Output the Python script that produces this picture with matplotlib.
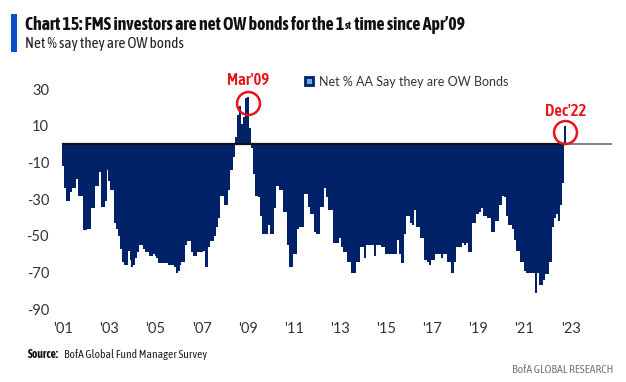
import matplotlib
matplotlib.use("Agg")
import matplotlib.pyplot as plt
import matplotlib.patches as patches
import numpy as np
import pandas as pd

# monthly survey readings, Mar 2001 .. Dec 2022
start_month = "2001-03"
net_ow_bonds = [
    -12, -24, -31, -31, -26, -24, -24, -19, -28, -28, -28, -47,
    -47, -46, -46, -35, -35, -23, -23, -15, -34, -34, -31, -14,
    -20, -25, -25, -43, -46, -50, -57, -64, -66, -66, -58, -63,
    -67, -66, -62, -59, -55, -55, -57, -59, -59, -61, -61, -60,
    -61, -62, -65, -65, -65, -65, -65, -66, -66, -66, -67, -70,
    -69, -66, -64, -64, -55, -53, -53, -59, -61, -61, -59, -59,
    -59, -58, -67, -67, -56, -53, -53, -50, -45, -40, -28, -28,
    -33, -33, -25, -14, -14, -7, 4, 16, 21, 11, 15, 25,
    26, 9, -2, -16, -28, -28, -29, -39, -49, -49, -49, -44,
    -49, -49, -35, -23, -23, -25, -25, -37, -37, -55, -67, -67,
    -60, -60, -46, -45, -45, -45, -27, -27, -34, -38, -38, -48,
    -49, -49, -34, -34, -24, -29, -36, -36, -36, -54, -54, -54,
    -51, -56, -59, -59, -64, -64, -70, -70, -70, -64, -64, -56,
    -56, -62, -55, -55, -55, -55, -61, -55, -55, -55, -56, -56,
    -60, -60, -60, -60, -60, -60, -52, -60, -65, -65, -49, -39,
    -39, -43, -44, -36, -45, -45, -51, -51, -63, -63, -64, -66,
    -63, -63, -60, -60, -60, -62, -60, -60, -64, -64, -70, -70,
    -64, -56, -56, -56, -54, -55, -54, -59, -59, -43, -43, -38,
    -38, -37, -35, -39, -39, -40, -40, -48, -48, -42, -42, -33,
    -33, -28, -29, -39, -44, -44, -46, -52, -58, -58, -64, -64,
    -69, -70, -70, -70, -70, -70, -81, -70, -77, -77, -74, -71,
    -71, -64, -64, -45, -40, -38, -42, -33, -21, 10,
]
months = pd.period_range(start_month, periods=len(net_ow_bonds), freq="M")
x_labels = ["'01", "'03", "'05", "'07", "'09", "'11", "'13", "'15", "'17", "'19", "'21", "'23"]
y_ticks = [30, 10, -10, -30, -50, -70, -90]
callouts = ["2009-03", "2022-12"]
callout_text = ["Mar'09", "Dec'22"]

navy = "#012169"
red = "#e8141b"
cond = ["Asap Condensed", "Liberation Sans"]
body = ["Lato", "DejaVu Sans"]

W, H = 626, 382
fig = plt.figure(figsize=(W / 100, H / 100), dpi=100)
ax = fig.add_axes([62.3 / W, 1 - 309.3 / H, (612 - 62.3) / W, 220 / H])

x = np.arange(len(net_ow_bonds))
ax.bar(x, net_ow_bonds, width=1.0, color=navy, linewidth=0, zorder=2)
n_slots = len(net_ow_bonds) + 24
ax.set_xlim(-0.5, n_slots - 0.5)
ax.set_ylim(-90, 30)
ax.hlines(0, -0.5, len(net_ow_bonds) - 0.5, color="#111111", lw=1.6, zorder=3)
ax.hlines(0, len(net_ow_bonds) - 0.5, n_slots - 0.5, color="#808080", lw=1.4, zorder=3)

ax.set_xticks(np.arange(0, 24 * len(x_labels), 24))
ax.set_xticklabels(x_labels)
ax.set_yticks(y_ticks)
ax.set_yticklabels([str(v) for v in y_ticks])
ax.tick_params(length=0, labelsize=10.5, colors="#333333")
ax.tick_params(axis="y", pad=9.5)
ax.tick_params(axis="x", pad=9.5)
for lab in ax.get_xticklabels() + ax.get_yticklabels():
    lab.set_fontfamily(body)
for s in ax.spines.values():
    s.set_visible(False)

# red circles + labels on the two positive readings
for per, txt, dy in zip(callouts, callout_text, [9, 8]):
    i = months.get_loc(pd.Period(per, freq="M"))
    v = net_ow_bonds[i]
    ax.plot(i + 0.3, v - 3.5, marker="o", ms=16.5, mfc="none", mec=red, mew=1.8,
            clip_on=False, zorder=4)
    ax.text(i + 0.3, v + dy, txt, color=red, fontsize=12, ha="center", va="center",
            family=cond, fontweight="semibold", clip_on=False)

leg = fig.legend(handles=[patches.Patch(facecolor="#6fa8dc", edgecolor=navy, linewidth=2)],
                 labels=["Net % AA Say they are OW Bonds"], loc="center left",
                 bbox_to_anchor=(305 / W, 1 - 81.5 / H), frameon=False, borderpad=0,
                 borderaxespad=0, handlelength=0.65, handleheight=0.65, handletextpad=0.45,
                 prop={"family": body, "size": 9})
for t in leg.get_texts():
    t.set_color("#333333")

# header: blue tab, title with superscript, subtitle
fig.patches.append(patches.Rectangle((11 / W, 1 - 52 / H), 6 / W, 38 / H, transform=fig.transFigure,
                                     color="#0a50c8", lw=0))
hdr = dict(fontweight="bold", family=cond, color="#111111")
t1 = fig.text(25 / W, 1 - 34.5 / H, "Chart 15: FMS investors are net OW bonds for the 1",
              fontsize=12.8, va="bottom", ha="left", **hdr)
t2 = ax.annotate("st", xy=(1, 1), xycoords=t1, xytext=(0.2, -2.5), textcoords="offset points",
                 fontsize=8, va="top", ha="left", annotation_clip=False, **hdr)
ax.annotate(" time since Apr\u201909", xy=(1, 0), xycoords=(t2, t1), fontsize=12.8,
            va="bottom", ha="left", annotation_clip=False, **hdr)
fig.text(25 / W, 1 - 44 / H, "Net % say they are OW bonds", fontsize=11, family=cond,
         va="center", ha="left", color="#222222")

# footer
fig.text(28 / W, 1 - 354 / H, "Source:", fontsize=8.3, fontweight="bold", family=cond,
         va="center", ha="left", color="#111111")
fig.text(63.5 / W, 1 - 354 / H, "BofA Global Fund Manager Survey", fontsize=8.3, family=cond,
         va="center", ha="left", color="#222222")
fig.text(613 / W, 1 - 369.5 / H, "BofA GLOBAL RESEARCH", fontsize=8.5, family=cond,
         va="center", ha="right", color="#777777")

fig.savefig("out.png", dpi=100)
